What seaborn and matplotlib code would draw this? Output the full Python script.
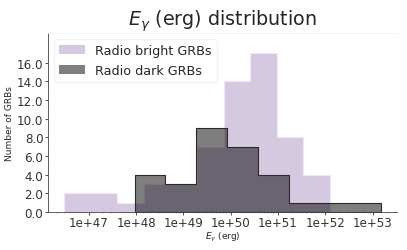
import numpy as np
import pandas as pd
import matplotlib
matplotlib.use("Agg")
import matplotlib.pyplot as plt
import seaborn as sns
from matplotlib.ticker import FuncFormatter, FixedLocator

# log10(E_gamma) bin edges and counts
bright_lo = 46.47
bright_w = 0.563
bright_counts = [2, 2, 1, 3, 3, 7, 14, 17, 8, 4]
dark_lo = 47.97
dark_w = 0.651
dark_counts = [4, 3, 9, 7, 4, 1, 1, 1]
xticks = [47, 48, 49, 50, 51, 52, 53]
yticks = [0, 2, 4, 6, 8, 10, 12, 14, 16]

bright_edges = bright_lo + bright_w * np.arange(len(bright_counts) + 1)
dark_edges = dark_lo + dark_w * np.arange(len(dark_counts) + 1)
bright_df = pd.DataFrame({"logE": (bright_edges[:-1] + bright_edges[1:]) / 2,
                          "n": bright_counts})
dark_df = pd.DataFrame({"logE": (dark_edges[:-1] + dark_edges[1:]) / 2,
                        "n": dark_counts})

sns.set_theme(style="white")
fig, ax = plt.subplots(figsize=(4.07, 2.51), dpi=100)
fig.subplots_adjust(left=0.117, right=0.976, top=0.865, bottom=0.152)

sns.histplot(data=bright_df, x="logE", weights="n", bins=list(bright_edges),
             element="step", fill=True, color="#6a3d9a", alpha=0.28,
             linewidth=0.8, edgecolor="#f3e6fb", ax=ax, label="Radio bright GRBs")
sns.histplot(data=dark_df, x="logE", weights="n", bins=list(dark_edges),
             element="step", fill=True, color="black", alpha=0.5,
             linewidth=0.8, edgecolor="#2a2a2a", ax=ax, label="Radio dark GRBs")

ax.set_xlim(46.13, 53.52)
ax.set_ylim(0, 19.2)
ax.xaxis.set_major_locator(FixedLocator(xticks))
minor = [k + np.log10(m) for k in range(46, 54) for m in range(2, 10)]
ax.xaxis.set_minor_locator(FixedLocator(minor))
ax.xaxis.set_major_formatter(FuncFormatter(lambda v, p: f"1e+{int(round(v))}"))
ax.yaxis.set_major_locator(FixedLocator(yticks))
ax.yaxis.set_major_formatter(FuncFormatter(lambda v, p: f"{v:.1f}"))
ax.tick_params(axis="both", which="major", labelsize=8.6, length=2, width=0.6,
               direction="out", left=True, bottom=True, pad=1, colors="#333333")
ax.tick_params(axis="x", which="minor", length=1.0, width=0.4, bottom=True,
               color="#888888")
ax.spines["right"].set_visible(False)
ax.spines["top"].set_color("#f2f2f2")
ax.spines["top"].set_linewidth(0.6)
for s in ["left", "bottom"]:
    ax.spines[s].set_color("#444444")
    ax.spines[s].set_linewidth(0.6)

ax.set_xlabel(r"$E_\gamma$ (erg)", fontsize=6.5, labelpad=0.5)
ax.set_ylabel("Number of GRBs", fontsize=6.5, labelpad=2)
ax.set_title(r"$E_\gamma$ (erg) distribution", fontsize=13.8, pad=0.5)

leg = ax.legend(loc="upper left", fontsize=9.2, frameon=True, borderaxespad=0.5,
                handlelength=2.0)
leg.get_frame().set_edgecolor("#f0f0f0")
for h in leg.legend_handles:
    h.set_edgecolor("none")

fig.savefig("out.png", dpi=100)
